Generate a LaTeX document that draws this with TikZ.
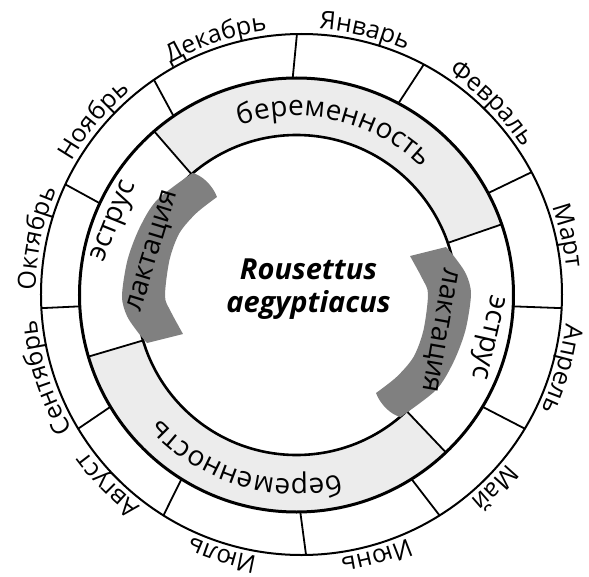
\documentclass[tikz,border=0pt]{standalone}
\usepackage{fontspec}
\setmainfont{Open Sans}
\usetikzlibrary{decorations.text}
\definecolor{pregfill}{HTML}{ECECEC}
\definecolor{lactfill}{HTML}{808080}
\newcommand\monthfont{\fontsize{25}{30}\selectfont}
\newcommand\phasefont{\fontsize{28}{34}\selectfont}
\tikzset{
  monthtext/.style={decorate,decoration={text along path,text align=center,
      text/.expanded={|\noexpand\monthfont|#1}}},
  phasetext/.style={decorate,decoration={text along path,text align=center,
      text/.expanded={|\noexpand\phasefont|#1}}},
  phase/.style={font=\phasefont,inner sep=0pt},
}
\begin{document}
\begin{tikzpicture}[x=1pt,y=1pt]
    \useasboundingbox (-296.5,-281) rectangle (292.5,295);
    \coordinate (ring) at (0,0);
    \coordinate (rim) at (5,0.5);

    % pregnancy sectors
    \foreach \a/\b in {131/19,196.5/313.5}
      \fill[pregfill] (\a:217) arc[start angle=\a,end angle=\b,radius=217]
        -- (\b:160) arc[start angle=\b,end angle=\a,radius=160] -- cycle;

    % circles
    \draw[line width=2pt] (rim) circle[radius=260.5];
    \draw[line width=3pt] (ring) circle[radius=217];
    \draw[line width=2.6pt] (ring) circle[radius=160];

    % month ticks
    \foreach \a in {91,62,28,-3,-31,-58,-89,-122,-149,-177,155,124.5}
      \draw[line width=1.8pt] (rim) ++(\a:260.5) -- (\a:217);

    % phase ticks
    \foreach \a in {131,19,-46.5,196.5}
      \draw[line width=1.8pt] (\a:160) -- (\a:217);

    % lactation bands
    \foreach \r in {0,180}
      \fill[lactfill,rotate=\r]
        plot[smooth] coordinates {(-104,122) (-139.5,95) (-157,67) (-169,35)
          (-174.5,-1) (-169.5,-21) (-158,-38) (-149.5,-48)}
        -- plot[smooth] coordinates {(-113.5,-39) (-126,-16) (-131.5,-1)
          (-127,35) (-117,62) (-100,82) (-79.5,98)}
        .. controls (-84,110) and (-95,120) .. (-104,122) -- cycle;

    \node[phase,rotate=68] (estrus-l) at (158:195) {эструс};
    \node[phase,rotate=-103] (estrus-r) at (-12.5:194) {эструс};
    \node[phase,rotate=73] (lact-l) at (163:149) {лактация};
    \node[phase,rotate=-100] (lact-r) at (-14:146) {лактация};

    \path[phasetext=беременность] (122:179) arc[start angle=122,end angle=32,radius=179];
    \path[phasetext=беременность] (-62:184) arc[start angle=-62,end angle=-152,radius=184];

    % months
    \foreach \a/\m in {76.5/Январь,45/Февраль,12.5/Март,-16/Апрель,-45/Май,-74/Июнь,
        -107/Июль,-135.5/Август,-162/Сентябрь,168/Октябрь,140/Ноябрь,108.5/Декабрь}
      \path[monthtext=\m] (rim) ++(\a+35:266) arc[start angle=\a+35,end angle=\a-35,radius=266];

    \node[font=\fontsize{29}{33}\selectfont\bfseries\itshape,align=center]
      (species) at (12,5.5) {Rousettus\\aegyptiacus};
\end{tikzpicture}
\end{document}
